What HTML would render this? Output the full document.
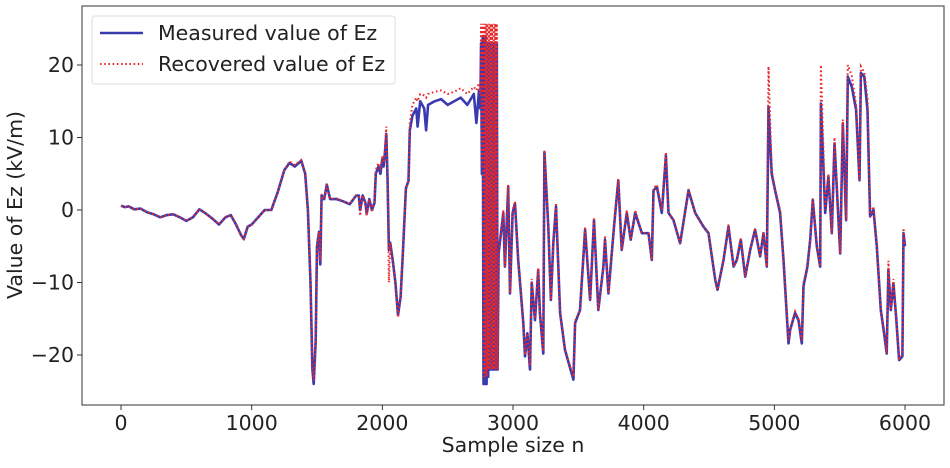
<!DOCTYPE html>
<html><head><meta charset="utf-8"><style>
html,body{margin:0;padding:0;background:#fff;}
svg text{font-family:"DejaVu Sans","Liberation Sans",sans-serif;fill:#222;}
</style></head><body>
<svg id="chart" width="950" height="463" viewBox="0 0 950 463">
<defs><clipPath id="clip"><rect x="82" y="6" width="862" height="399"/></clipPath></defs>
<rect x="82" y="6" width="862" height="399" fill="#fff" stroke="#555" stroke-width="1.2"/>
<g id="xticks"></g>
<g id="yticks"></g>
<g clip-path="url(#clip)">
<path id="measured" fill="none" stroke="#3a3ab0" stroke-width="2.6" stroke-linejoin="round"/>
<path id="recovered" fill="none" stroke="#e8282a" stroke-width="2" stroke-dasharray="1.6,2.6"/>
</g>
<text x="513" y="452" font-size="20.5" text-anchor="middle">Sample size n</text>
<text transform="translate(22,205) rotate(-90)" font-size="20.5" text-anchor="middle">Value of Ez (kV/m)</text>
<g>
<rect x="92" y="16" width="303" height="68" rx="3" fill="#fff" stroke="#ddd" stroke-width="1"/>
<line x1="100" y1="33" x2="143" y2="33" stroke="#3a3ab0" stroke-width="2.6"/>
<text x="158" y="40" font-size="20.5">Measured value of Ez</text>
<line x1="100" y1="64" x2="143" y2="64" stroke="#e8282a" stroke-width="2" stroke-dasharray="1.6,2.6"/>
<text x="158" y="71" font-size="20.5">Recovered value of Ez</text>
</g>
</svg>
<script>
const xTicks=[0,1000,2000,3000,4000,5000,6000];
const yTicks=[-20,-10,0,10,20];
const sampleN=[0,30,60,100,150,200,250,300,350,400,450,500,550,600,650,700,750,800,840,880,920,940,970,1000,1050,1100,1150,1200,1250,1290,1330,1380,1410,1430,1450,1465,1475,1490,1500,1515,1525,1535,1555,1575,1600,1650,1700,1750,1800,1820,1830,1850,1870,1880,1900,1920,1940,1950,1970,1985,2000,2010,2020,2030,2040,2050,2060,2080,2100,2120,2140,2160,2180,2200,2210,2230,2260,2270,2290,2320,2335,2350,2400,2450,2500,2550,2600,2650,2700,2720,2740,2750,2756,2762,2768,2774,2780,2786,2792,2798,2804,2810,2816,2822,2828,2834,2840,2846,2852,2858,2864,2870,2876,2882,2890,2926,2938,2963,2977,2997,3015,3040,3079,3092,3110,3130,3143,3168,3193,3206,3232,3240,3270,3290,3308,3329,3360,3398,3462,3475,3513,3552,3590,3620,3653,3692,3704,3730,3773,3806,3832,3871,3901,3935,3986,4037,4062,4075,4101,4139,4170,4190,4228,4279,4343,4394,4458,4496,4547,4565,4611,4649,4688,4713,4743,4777,4815,4853,4891,4917,4942,4955,4980,5006,5044,5070,5108,5121,5159,5185,5210,5223,5253,5274,5294,5325,5351,5356,5389,5414,5440,5460,5504,5524,5549,5562,5593,5626,5652,5662,5688,5713,5733,5759,5784,5815,5840,5860,5873,5891,5911,5932,5955,5980,5988,6000];
const measured=[0.6,0.4,0.5,0.1,0.2,-0.3,-0.6,-1,-0.7,-0.6,-1,-1.5,-1,0.1,-0.5,-1.2,-2,-1,-0.7,-2,-3.5,-4,-2.3,-2,-1,0,0,2.5,5.5,6.5,6,6.8,5,0,-10,-22,-24,-18,-5,-3,-7.5,2,1.5,3.5,1.5,1.5,1.2,0.8,2,2,0,2,1,-0.5,1.5,0,1,5,6,5,7,6,8,10.5,4,-5.5,-4.5,-7,-10,-14.5,-12,-5,3,4,11,13,14,11.5,15,14,11,14.5,15,15.3,14.5,15,15.5,14.5,16,12,16.5,14,23,5,24,-24,24,-24,24,-24,23,-23,23,-22,23,-22,23,-22,23,-22,23,-22,23,-22,-6,-0.4,-7.8,3.2,-11.5,-0.4,0.9,-6.9,-15.6,-20.2,-17,-22,-10,-15.2,-8.3,-14.2,-19.8,8,-2.3,-12.4,-4.6,0.5,-14.2,-19.3,-23.4,-15.6,-13.8,-2.7,-12.4,-1.4,-13.8,-7.8,-4.1,-11.5,-2.3,4.1,-5.5,-0.4,-4.1,-0.4,-3.2,-3.2,-6.9,2.7,3.2,-0.4,7.5,-0.4,-1.4,-4.6,2.7,-0.4,-2.3,-3.2,-9.6,-11,-6.9,-2.3,-7.8,-6.9,-4.1,-9.2,-5.5,-2.7,-6.4,-3.2,-7.8,14.2,5,2.7,-0.4,-6.9,-18.4,-16.5,-14.2,-15.2,-18.4,-10.5,-7.8,-4.1,1.4,-5,-7.8,14.7,-0.4,4.6,-3.2,9.2,-6,11.9,-1.4,18.4,17,13.8,4.1,18.9,18.4,13.8,-0.9,0,-5,-13.8,-17,-19.8,-8.3,-13.8,-10.1,-14.7,-20.7,-20.2,-3.2,-5];
const recovered=[0.6,0.4,0.5,0.1,0.2,-0.3,-0.6,-1,-0.7,-0.6,-1,-1.5,-1,0.1,-0.5,-1.2,-2,-1,-0.7,-2,-3.5,-4,-2.3,-2,-1,0,0,2.5,5.5,6.7,6.2,6.9,5,0,-10,-22,-23.5,-18,-5,-3,-7,2.2,1.5,3.5,1.5,1.6,1.2,0.8,2,2,-0.8,2,1,-0.8,1.5,-0.3,1,5.5,6.5,5.5,7.5,6.5,8.5,11.5,5,-10,-4.5,-7,-10,-14.8,-12,-5,3,4,12,14.5,15.5,15,16,15.8,15.5,16,16.3,16.5,16,16.3,16.8,16,17,16.5,17.5,16,25.7,6,25.7,-23,25.7,-23,25.7,-23,25.7,-22,25.7,-22,25.7,-22,25.7,-22,25.7,-22,25.7,-22,25.7,-22,-6,0,-7.8,3.5,-11.5,0,1.2,-6.9,-15.6,-20,-17,-21.5,-9.5,-15,-8,-14.2,-19.5,8.3,-2.3,-12.4,-4.6,1,-14.2,-19.3,-23,-15.3,-13.8,-2.3,-12.4,-1,-13.8,-7.8,-3.5,-11.5,-2.3,4.3,-5.5,0,-4.1,0,-3.2,-3.2,-6.9,3,3.5,0,8,-0.4,-1.4,-4.6,2.9,-0.4,-2.3,-3.2,-9.6,-11,-6.9,-2,-7.8,-6.9,-3.8,-9.2,-5.5,-2.5,-6.4,-3,-7.8,19.8,5.5,2.7,0,-6.9,-18,-16.5,-14,-15,-18,-10,-7.8,-4,1.6,-5,-7.8,20,0,5,-3.2,10,-6,12.5,-1.4,20,18.5,14.5,4.1,19.8,19,15.5,-0.9,0.5,-5,-13.8,-17,-19.8,-7,-13.8,-9.5,-14.7,-20.5,-20,-2.5,-5];
const X=n=>121+n*0.13067;
const Y=v=>210-v*7.25;
const ns='http://www.w3.org/2000/svg';
const gx=document.getElementById('xticks'),gy=document.getElementById('yticks');
xTicks.forEach(t=>{
 const l=document.createElementNS(ns,'line');
 l.setAttribute('x1',X(t));l.setAttribute('x2',X(t));l.setAttribute('y1',405);l.setAttribute('y2',410);l.setAttribute('stroke','#333');
 
 
 gx.appendChild(l);
 const s=document.createElementNS(ns,'text');
 s.setAttribute('x',X(t));s.setAttribute('y',430);s.setAttribute('font-size','20.5');s.setAttribute('text-anchor','middle');s.textContent=t;
 
 
 gx.appendChild(s);
});
yTicks.forEach(t=>{
 const l=document.createElementNS(ns,'line');
 l.setAttribute('x1',77);l.setAttribute('x2',82);l.setAttribute('y1',Y(t));l.setAttribute('y2',Y(t));l.setAttribute('stroke','#333');
 
 
 gy.appendChild(l);
 const s=document.createElementNS(ns,'text');
 s.setAttribute('x',74);s.setAttribute('y',Y(t)+7);s.setAttribute('font-size','20.5');s.setAttribute('text-anchor','end');s.textContent=t<0?'\u2212'+(-t):t;
 
 
 gy.appendChild(s);
});
const path=arr=>arr.map((v,i)=>(i?'L':'M')+X(sampleN[i]).toFixed(1)+','+Y(v).toFixed(1)).join('');
document.getElementById('measured').setAttribute('d',path(measured));
document.getElementById('recovered').setAttribute('d',path(recovered));
</script>
</body></html>
